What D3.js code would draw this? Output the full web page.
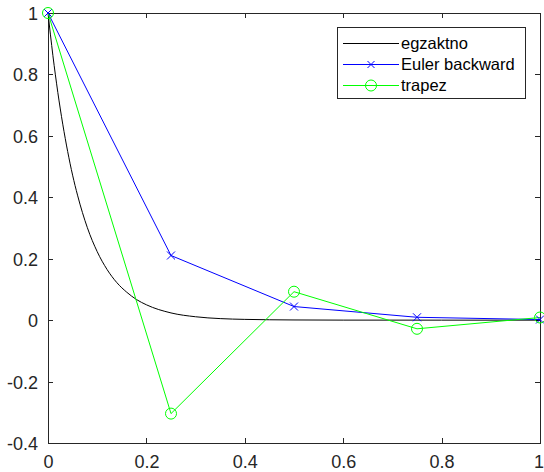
<!DOCTYPE html>
<html><head><meta charset="utf-8">
<script src="https://cdn.jsdelivr.net/npm/d3@7"></script>
<style>body{margin:0;background:#fff}svg{display:block}text{font-family:"Liberation Sans",Arial,sans-serif}</style>
</head><body>
<svg id="c" width="544" height="472"></svg>
<script>
const exactT = [0,0.01,0.02,0.03,0.04,0.05,0.06,0.08,0.1,0.12,0.14,0.16,0.18,0.2,0.25,0.3,0.35,0.4,0.5,0.6,0.8,1];
const exactY = [1,0.861,0.741,0.638,0.549,0.472,0.407,0.301,0.223,0.165,0.122,0.091,0.067,0.050,0.0235,0.011,0.005,0.0025,0.0006,0.0001,0,0];
const stepT = [0,0.25,0.5,0.75,1];
const eulerY = [1,0.2105,0.0443,0.0093,0.002];
const trapezY = [1,-0.3043,0.0926,-0.0282,0.0086];
const xTicks = [0,0.2,0.4,0.6,0.8,1];
const yTicks = [-0.4,-0.2,0,0.2,0.4,0.6,0.8,1];
const legendLabels = ["egzaktno","Euler backward","trapez"];

const svg = d3.select("#c");
const L=48,R=540,T=13,B=443;
const x = d3.scaleLinear().domain([0,1]).range([L,R]);
const y = d3.scaleLinear().domain([-0.4,1]).range([B,T]);
const axc="#262626";
const FS=18;
const g = svg.append("g");
g.append("rect").attr("x",L).attr("y",T).attr("width",R-L).attr("height",B-T).attr("fill","none").attr("stroke",axc).attr("stroke-width",1).attr("shape-rendering","crispEdges");
const xa = d3.axisBottom(x).tickValues(xTicks).tickSizeInner(-5).tickSizeOuter(0).tickFormat(d=>String(d));
const ya = d3.axisLeft(y).tickValues(yTicks).tickSizeInner(-5).tickSizeOuter(0).tickPadding(10).tickFormat(d=>String(d));
const gx=g.append("g").attr("transform",`translate(0,${B})`).call(xa);
const gy=g.append("g").attr("transform",`translate(${L},0)`).call(ya);
const gx2=g.append("g").attr("transform",`translate(0,${T})`).call(d3.axisTop(x).tickValues(xTicks).tickSizeInner(-5).tickSizeOuter(0).tickFormat(""));
const gy2=g.append("g").attr("transform",`translate(${R},0)`).call(d3.axisRight(y).tickValues(yTicks).tickSizeInner(-5).tickSizeOuter(0).tickFormat(""));
[gx,gy,gx2,gy2].forEach(a=>{a.attr("font-size",null).attr("font-family",null);a.select(".domain").remove();a.selectAll("line").attr("stroke",axc).attr("shape-rendering","crispEdges");a.selectAll("text").attr("fill",axc).attr("font-size",FS);});
gx.selectAll("text").attr("dy",null).attr("y",25);
gx.selectAll("text").filter(d=>d===1).attr("text-anchor","end").attr("x",3.5);
gy.selectAll("text").attr("dy","0.36em");

const line = d3.line().x(d=>x(d[0])).y(d=>y(d[1]));
const exact = exactT.map((t,i)=>[t,exactY[i]]);
g.append("path").datum(exact).attr("d",line.curve(d3.curveMonotoneX)).attr("fill","none").attr("stroke","#000").attr("stroke-width",1);
const lin = d3.line().x(d=>x(d[0])).y(d=>y(d[1]));
const eu = stepT.map((t,i)=>[t,eulerY[i]]);
const tr = stepT.map((t,i)=>[t,trapezY[i]]);
g.append("path").datum(eu).attr("d",lin).attr("fill","none").attr("stroke","#0000ff").attr("stroke-width",1);
g.append("path").datum(tr).attr("d",lin).attr("fill","none").attr("stroke","#00ff00").attr("stroke-width",1);
function cross(sel,cx,cy,s,c){sel.append("path").attr("d",`M${cx-s},${cy-s}L${cx+s},${cy+s}M${cx-s},${cy+s}L${cx+s},${cy-s}`).attr("stroke",c).attr("fill","none").attr("stroke-width",1);}
eu.forEach(d=>cross(g,x(d[0]),y(d[1]),4,"#0000ff"));
tr.forEach(d=>g.append("circle").attr("cx",x(d[0])).attr("cy",y(d[1])).attr("r",5.5).attr("fill","none").attr("stroke","#00ff00").attr("stroke-width",1));

const lg = svg.append("g");
lg.append("rect").attr("x",337.5).attr("y",27.5).attr("width",188).attr("height",71).attr("fill","#fff").attr("stroke",axc).attr("stroke-width",1);
const cols=["#000","#0000ff","#00ff00"];
legendLabels.forEach((lab,i)=>{
  const yy=43.5+i*21;
  lg.append("line").attr("x1",343).attr("x2",399).attr("y1",yy).attr("y2",yy).attr("stroke",cols[i]);
  if(i===1) cross(lg,371,yy,3.5,cols[i]);
  if(i===2) lg.append("circle").attr("cx",371).attr("cy",yy).attr("r",5.5).attr("fill","none").attr("stroke",cols[i]);
  lg.append("text").attr("x",401).attr("y",yy).attr("dy","0.36em").attr("font-size",16.5).attr("fill","#000").text(lab);
});
</script>
</body></html>
